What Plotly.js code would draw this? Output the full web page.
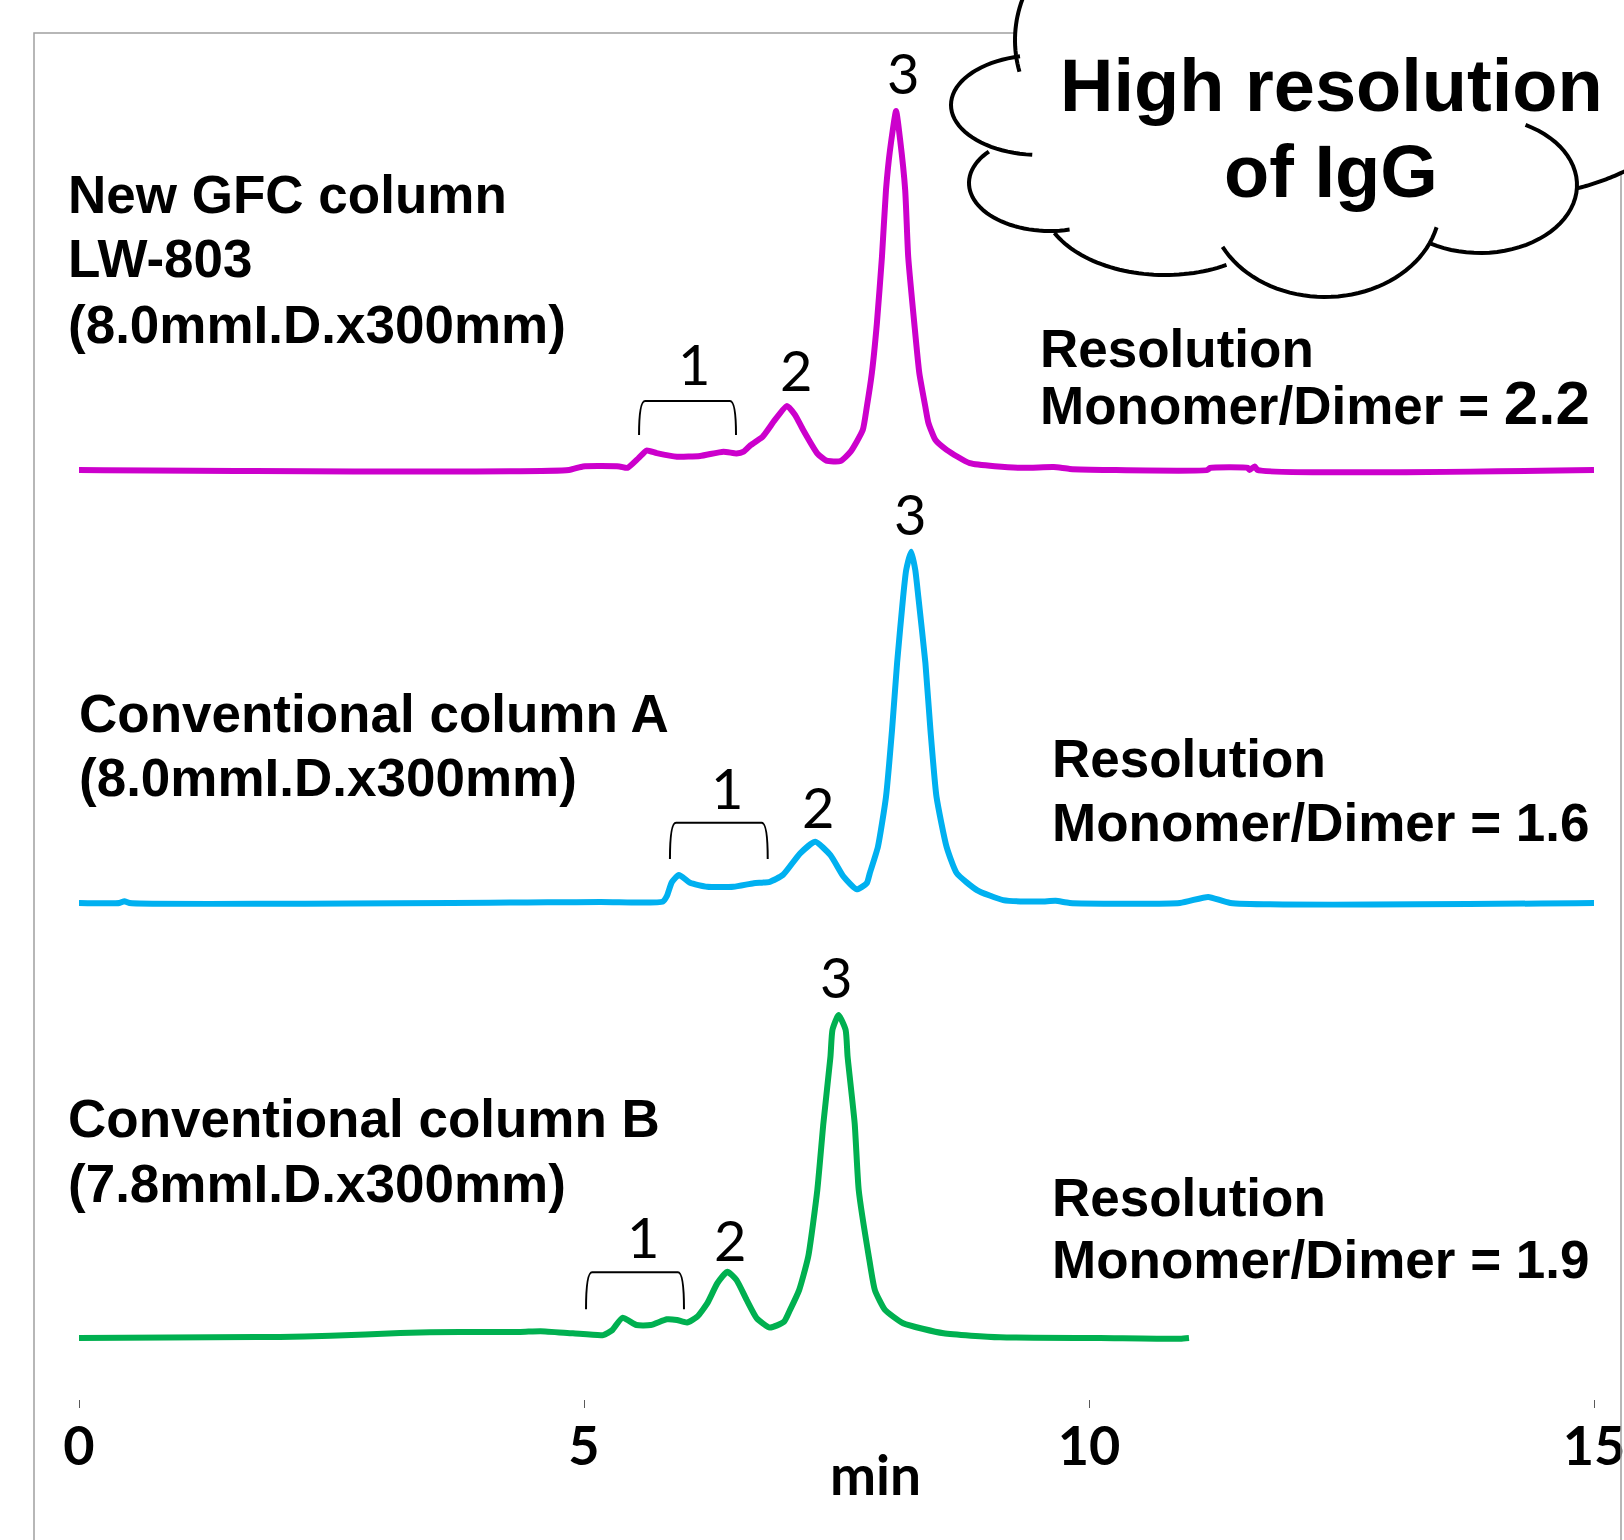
<!DOCTYPE html>
<html><head><meta charset="utf-8">
<script src="https://cdn.plot.ly/plotly-3.0.1.min.js"></script>
<style>html,body{margin:0;padding:0;background:#fff;} #chart{width:1624px;height:1540px;}</style>
</head><body><div id="chart"></div>
<script>
// ---------------- data ----------------
// retention time (min) and detector signal (arbitrary units, baseline = 0)
const newT = [0, 4.85, 4.99, 5.35, 5.43, 5.54, 5.62, 5.72, 5.92, 6.15, 6.38, 6.51, 6.58, 6.65, 6.77, 6.89, 7.01, 7.09, 7.17, 7.31, 7.40, 7.54, 7.64, 7.76, 7.80, 7.85, 7.90, 7.95, 7.99, 8.03, 8.09, 8.13, 8.18, 8.21, 8.27, 8.32, 8.38, 8.41, 8.48, 8.59, 8.82, 9.32, 9.65, 9.81, 10.21, 11.17, 11.20, 11.57, 11.59, 11.64, 11.67, 15.0];
const newS = [0, 0, 1.0, 1.0, 0.6, 3.3, 5.4, 4.7, 3.7, 3.9, 5.1, 4.6, 5.1, 6.9, 9.3, 13.9, 17.8, 15.3, 11.1, 4.6, 2.6, 2.5, 5.1, 11.1, 17.5, 26.9, 40.8, 59.2, 77.8, 88.9, 99.7, 91.7, 77.8, 59.2, 40.8, 26.9, 17.5, 13.1, 8.3, 5.6, 1.9, 0.6, 0.8, 0.3, 0, 0, 0.6, 0.6, 0, 1.0, 0, 0];

const colAT = [0, 0.40, 0.45, 0.50, 5.16, 5.78, 5.82, 5.87, 5.94, 6.05, 6.22, 6.48, 6.68, 6.84, 6.97, 7.14, 7.29, 7.44, 7.57, 7.70, 7.80, 7.83, 7.91, 7.99, 8.05, 8.10, 8.16, 8.19, 8.24, 8.28, 8.31, 8.38, 8.43, 8.49, 8.59, 8.69, 8.89, 9.15, 9.52, 9.67, 9.81, 10.90, 11.18, 11.40, 15.0];
const colAS = [0, 0, 0.5, 0, 0.3, 0.4, 1.9, 5.8, 7.8, 5.6, 4.5, 4.5, 5.5, 5.9, 7.8, 13.8, 17.0, 13.3, 7.3, 3.8, 5.5, 8.3, 15.6, 29.5, 48.1, 66.7, 85.1, 92.5, 97.6, 92.5, 85.1, 66.7, 48.1, 29.5, 15.6, 8.3, 3.6, 0.8, 0.4, 0.6, 0, 0, 1.7, 0, 0];

const colBT = [0, 1.99, 2.49, 3.18, 3.77, 4.37, 4.57, 4.89, 5.19, 5.28, 5.38, 5.52, 5.66, 5.82, 5.92, 6.02, 6.12, 6.22, 6.32, 6.42, 6.51, 6.61, 6.71, 6.84, 6.98, 7.04, 7.13, 7.22, 7.31, 7.37, 7.44, 7.46, 7.52, 7.59, 7.61, 7.68, 7.72, 7.82, 7.88, 7.98, 8.16, 8.56, 9.12, 10.11, 10.90, 10.99];
const colBS = [0, 0.3, 0.6, 1.4, 1.7, 1.7, 1.9, 1.3, 0.8, 2.2, 5.6, 3.6, 3.6, 5.2, 5.0, 4.3, 5.9, 9.6, 15.2, 18.4, 16.1, 10.6, 5.5, 2.9, 4.5, 7.8, 13.3, 22.6, 41.1, 59.6, 78.1, 85.6, 89.7, 85.6, 78.1, 59.6, 41.1, 22.6, 13.3, 7.8, 4.1, 1.3, 0.2, 0, -0.2, 0];

const tickVals = [0, 5, 10, 15];
const tickText = ['0', '5', '10', '15'];
const xTitle = 'min';
const peakLabels = ['1', '2', '3'];
const columnLabels = [
  ['New GFC column', 'LW-803', '(8.0mmI.D.x300mm)'],
  ['Conventional column A', '(8.0mmI.D.x300mm)'],
  ['Conventional column B', '(7.8mmI.D.x300mm)']
];
const resolutionValues = ['2.2', '1.6', '1.9'];
const cloudText = ['High resolution', 'of IgG'];

// ---------------- layout helpers ----------------
const W = 1624, H = 1540;
const M = {l: 79, r: 30, t: 0, b: 141};
const PW = W - M.l - M.r, PH = H - M.t - M.b;
const xp = px => (px - M.l) / PW;
const yp = py => (M.t + PH - py) / PH;
const PXU = 3.6, YR = [-10, 118];
const baselines = [470, 903, 1338];
const dom = B => [yp(B - YR[0] * PXU), yp(B - YR[1] * PXU)];
const colors = ['#CC00CC', '#00B0F0', '#00B050'];
const yRefs = ['y', 'y2', 'y3'];

const TXT = 'Liberation Sans, Arial, sans-serif';
const NUM = 'Lato, Open Sans, sans-serif';

const series = [[newT, newS], [colAT, colAS], [colBT, colBS]];
const traces = series.map((s, i) => ({
  x: s[0], y: s[1], xaxis: 'x', yaxis: yRefs[i], mode: 'lines',
  line: {color: colors[i], width: 6, shape: 'spline', smoothing: 0.5},
  hoverinfo: 'skip', showlegend: false
}));

// annotation positions
const peakPos = [
  [[6.089, 29.7], [7.096, 27.8], [8.158, 110.4]],
  [[6.413, 32.2], [7.317, 26.7], [8.228, 108.3]],
  [[5.584, 28.1], [6.446, 27.5], [7.495, 100.3]]
];
const leftPos = [{x: 66, y: [195, 259, 324]}, {x: 77, y: [713, 777]}, {x: 66, y: [1118.5, 1183]}];
const rightPos = [{x: 1038, y: [348, 402]}, {x: 1050, y: [758, 822]}, {x: 1050, y: [1197, 1259]}];
const brackets = [[5.545, 6.505, 19.2, 9.7], [5.851, 6.819, 22.3, 12.2], [5.020, 5.990, 18.25, 7.97]];

const annotations = [];
peakPos.forEach((arr, i) => arr.forEach((p, j) => annotations.push({
  x: p[0], y: p[1], xref: 'x', yref: yRefs[i], text: peakLabels[j], showarrow: false,
  xanchor: 'center', yanchor: 'middle', font: {family: NUM, size: 56, color: '#000'}
})));
columnLabels.forEach((lines, i) => lines.forEach((t, j) => annotations.push({
  x: xp(leftPos[i].x), y: yp(leftPos[i].y[j]), xref: 'paper', yref: 'paper', text: t, showarrow: false,
  xanchor: 'left', yanchor: 'middle', font: {family: TXT, size: 53, color: '#000', weight: 'bold'}
})));
resolutionValues.forEach((v, i) => {
  annotations.push({x: xp(rightPos[i].x), y: yp(rightPos[i].y[0]), xref: 'paper', yref: 'paper',
    text: 'Resolution', showarrow: false, xanchor: 'left', yanchor: 'middle',
    font: {family: TXT, size: 53, color: '#000', weight: 'bold'}});
  const val = i === 0 ? '<span style="font-size:62px">' + v + '</span>' : v;
  annotations.push({x: xp(rightPos[i].x), y: yp(rightPos[i].y[1]), xref: 'paper', yref: 'paper',
    text: 'Monomer/Dimer = ' + val, showarrow: false, xanchor: 'left', yanchor: 'middle',
    font: {family: TXT, size: 53, color: '#000', weight: 'bold'}});
});
annotations.push({x: xp(1331), y: yp(85), xref: 'paper', yref: 'paper', text: cloudText[0], showarrow: false,
  xanchor: 'center', yanchor: 'middle', font: {family: TXT, size: 74, color: '#000', weight: 'bold'}});
annotations.push({x: xp(1331), y: yp(171), xref: 'paper', yref: 'paper', text: cloudText[1], showarrow: false,
  xanchor: 'center', yanchor: 'middle', font: {family: TXT, size: 74, color: '#000', weight: 'bold'}});
annotations.push({x: xp(875), y: yp(1474), xref: 'paper', yref: 'paper', text: xTitle, showarrow: false,
  xanchor: 'center', yanchor: 'middle', font: {family: NUM, size: 55, color: '#000', weight: 'bold'}});

// shapes
const shapes = [];
// chart frame
shapes.push({type: 'rect', xref: 'paper', yref: 'paper', x0: xp(34), x1: xp(1621), y0: yp(1600), y1: yp(33),
  line: {color: '#a0a0a0', width: 1.5}, fillcolor: 'rgba(0,0,0,0)', layer: 'above'});
// brackets
brackets.forEach((b, i) => {
  const d = 0.06;
  const path = `M${b[0]},${b[3]} Q${b[0]},${b[2]} ${b[0] + d},${b[2]} L${b[1] - d},${b[2]} Q${b[1]},${b[2]} ${b[1]},${b[3]}`;
  shapes.push({type: 'path', xref: 'x', yref: yRefs[i], path: path, line: {color: '#000', width: 2}, layer: 'above'});
});
// cloud
const lobes = [
  [1130, 40, 115, 115, 250, 164],
  [1040, 105, 89, 50, 257, 95],
  [1050, 183, 81, 48, 221, 76],
  [1165, 200, 123, 75, 154, 60],
  [1325, 205, 115, 92, 153, 14],
  [1480, 185, 97, 68, 121, -62],
  [1515, -60, 256, 256, 76, 55]
];
const fillEnds = [164, 95, 76, 60, 14, 4, 55];
function arc(l, a0, a1) {
  const pts = [], n = 40;
  for (let i = 0; i <= n; i++) {
    const a = (a0 + (a1 - a0) * i / n) * Math.PI / 180;
    pts.push([l[0] + l[2] * Math.cos(a), l[1] + l[3] * Math.sin(a)]);
  }
  return pts;
}
const toPath = (pts, close) => pts.map((p, i) => (i ? 'L' : 'M') + xp(p[0]).toFixed(5) + ',' + yp(p[1]).toFixed(5)).join(' ') + (close ? ' Z' : '');
let fillPts = [];
lobes.forEach((l, i) => { fillPts = fillPts.concat(arc(l, l[4], fillEnds[i])); });
fillPts.push([1700, 150], [1700, -200], [1090, -200]);
shapes.push({type: 'path', xref: 'paper', yref: 'paper', path: toPath(fillPts, true),
  fillcolor: '#ffffff', line: {width: 0, color: 'rgba(0,0,0,0)'}, layer: 'above'});
lobes.forEach(l => shapes.push({type: 'path', xref: 'paper', yref: 'paper', path: toPath(arc(l, l[4], l[5]), false),
  line: {color: '#000', width: 4}, fillcolor: 'rgba(0,0,0,0)', layer: 'above'}));

const axisY = (B) => ({domain: dom(B), range: YR, visible: false, showgrid: false, zeroline: false, fixedrange: true});

const layout = {
  width: W, height: H, margin: M, paper_bgcolor: '#fff', plot_bgcolor: '#fff', showlegend: false,
  xaxis: {range: [0, 15], anchor: 'free', position: 0, tickvals: tickVals, ticktext: tickText,
    ticks: 'outside', ticklen: 8, tickwidth: 1, tickcolor: '#595959', showline: false, showgrid: false,
    zeroline: false, ticklabelstandoff: -8, ticklabeloverflow: 'allow',
    tickfont: {family: NUM, size: 54, color: '#000', weight: 'bold'}},
  yaxis: axisY(baselines[0]),
  yaxis2: axisY(baselines[1]),
  yaxis3: axisY(baselines[2]),
  annotations: annotations,
  shapes: shapes
};

Plotly.newPlot('chart', traces, layout, {displayModeBar: false, staticPlot: true});
</script></body></html>
